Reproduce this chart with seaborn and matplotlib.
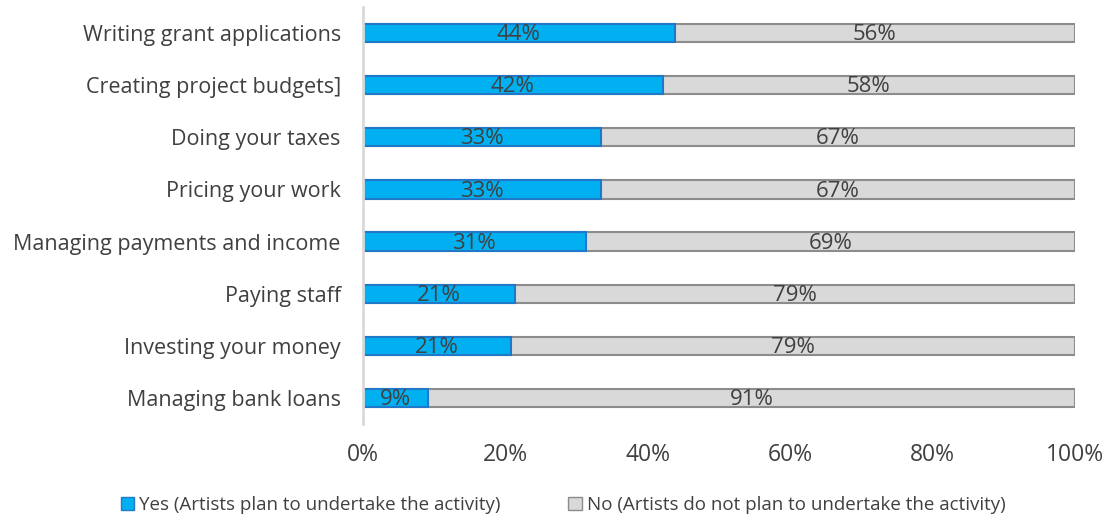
import numpy as np
import pandas as pd
import matplotlib.pyplot as plt
import seaborn as sns
from matplotlib.patches import Patch
from matplotlib.ticker import PercentFormatter

# Data
activities = ["Writing grant applications", "Creating project budgets]", "Doing your taxes",
              "Pricing your work", "Managing payments and income", "Paying staff",
              "Investing your money", "Managing bank loans"]
yes_pct = [43.8, 42.1, 33.4, 33.4, 31.3, 21.3, 20.8, 9.1]
no_pct = [100 - v for v in yes_pct]

df = pd.DataFrame({"activity": activities, "yes": yes_pct, "no": no_pct})
df["total"] = df["yes"] + df["no"]

sns.set_theme(style="white")
plt.rcParams["font.family"] = ["Open Sans", "DejaVu Sans"]

text_color = "#404040"
yes_color, yes_edge = "#00B0F0", "#1F78C8"
no_color, no_edge = "#D9D9D9", "#8C8C8C"

fig = plt.figure(figsize=(11.09, 5.19), dpi=100, facecolor="white")
ax = fig.add_axes([0.3273, 0.183, 0.642, 0.8035])

# grey "No" bar spans the full 100%, blue "Yes" drawn on top
sns.barplot(data=df, y="activity", x="total", color=no_color, edgecolor=no_edge,
            linewidth=1.5, width=0.35, saturation=1, ax=ax)
sns.barplot(data=df, y="activity", x="yes", color=yes_color, edgecolor=yes_edge,
            linewidth=1.5, width=0.35, saturation=1, ax=ax)

for i, (y, n) in enumerate(zip(df["yes"], df["no"])):
    ax.text(y / 2, i + 0.03, f"{round(y)}%", ha="center", va="center", fontsize=16, color=text_color)
    ax.text(y + n / 2, i + 0.03, f"{round(n)}%", ha="center", va="center", fontsize=16, color=text_color)

ax.set_xlim(0, 100)
ax.set_ylim(7.5, -0.5)
ax.set_xticks(np.arange(0, 101, 20))
ax.xaxis.set_major_formatter(PercentFormatter(decimals=0))
ax.tick_params(axis="x", labelsize=16.5, labelcolor=text_color, pad=14, length=0)
ax.tick_params(axis="y", labelsize=15.5, labelcolor=text_color, pad=16, length=0)
ax.set_xlabel("")
ax.set_ylabel("")

for side in ["top", "right", "bottom"]:
    ax.spines[side].set_visible(False)
ax.spines["left"].set_color("#D9D9D9")
ax.spines["left"].set_linewidth(2)

handles = [Patch(facecolor=yes_color, edgecolor=yes_edge, label="Yes (Artists plan to undertake the activity)"),
           Patch(facecolor=no_color, edgecolor=no_edge, label="No (Artists do not plan to undertake the activity)")]
fig.legend(handles=handles, loc="center", bbox_to_anchor=(0.508, 0.027), ncol=2, frameon=False,
           fontsize=13.5, labelcolor=text_color, handlelength=0.7, handleheight=0.7,
           handletextpad=0.3, columnspacing=3.6)

plt.savefig("out.png", dpi=100)
